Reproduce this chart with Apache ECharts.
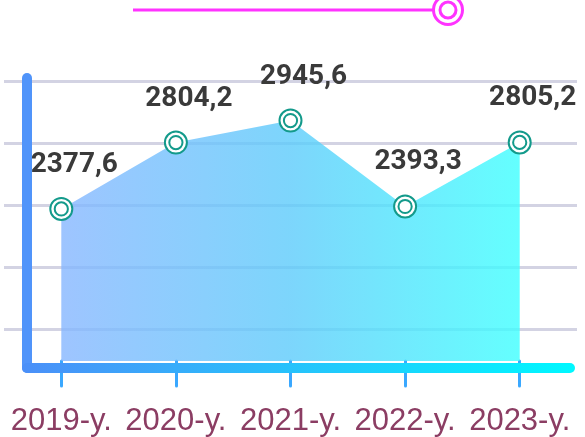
<!DOCTYPE html>
<html>
<head>
<meta charset="utf-8">
<script src="https://cdn.jsdelivr.net/npm/echarts@6/dist/echarts.min.js"></script>
<style>
  html, body { margin: 0; padding: 0; background: #ffffff; }
  #chart { width: 585px; height: 437px; }
</style>
</head>
<body>
<div id="chart"></div>
<script>
// Yearly totals
const years = ['2019-y.', '2020-y.', '2021-y.', '2022-y.', '2023-y.'];
const totals = [2377.6, 2804.2, 2945.6, 2393.3, 2805.2];

// Horizontal guide lines (plain index scale, only the lines are drawn)
const guideMin = -0.52;
const guideMax = 4;

// Value scale used for the area and markers
const valueMin = 1400;
const valueMax = 3200;

const fmt = v => String(v).replace('.', ',');

// Double-ring marker: two concentric circles, stroked by borderColor
const ringSymbol = 'path://M10,0A10,10 0 1,1 -10,0A10,10 0 1,1 10,0ZM6,0A6,6 0 1,1 -6,0A6,6 0 1,1 6,0Z';

const chart = echarts.init(document.getElementById('chart'), null, { renderer: 'canvas' });

chart.setOption({
  animation: false,
  backgroundColor: '#ffffff',
  grid: [
    // plotting area
    { left: 4, right: 8, top: 81, bottom: 69 },
    // L-shaped frame
    { left: 27, right: 15, top: 78, bottom: 69 }
  ],
  xAxis: [
    {
      gridIndex: 0,
      type: 'category',
      data: years,
      boundaryGap: true,
      axisLine: { show: false, onZero: false },
      axisTick: {
        show: true,
        alignWithLabel: true,
        interval: 0,
        length: 25,
        lineStyle: { color: '#3aa8ff', width: 3, cap: 'round' }
      },
      axisLabel: {
        interval: 0,
        margin: 45,
        color: '#8b3d63',
        fontSize: 31,
        fontFamily: "'Liberation Sans', Arial, sans-serif"
      },
      splitLine: { show: false }
    },
    {
      gridIndex: 1,
      type: 'value',
      min: 0,
      max: 1,
      z: 4,
      axisLine: {
        show: true,
        onZero: false,
        lineStyle: {
          width: 10,
          cap: 'round',
          color: new echarts.graphic.LinearGradient(0, 0, 1, 0, [
            { offset: 0, color: '#4b8ff8' },
            { offset: 1, color: '#00f8ff' }
          ])
        }
      },
      axisTick: { show: false },
      axisLabel: { show: false },
      splitLine: { show: false }
    }
  ],
  yAxis: [
    {
      gridIndex: 0,
      type: 'value',
      min: valueMin,
      max: valueMax,
      axisLine: { show: false },
      axisTick: { show: false },
      axisLabel: { show: false },
      splitLine: { show: false }
    },
    {
      gridIndex: 0,
      type: 'value',
      min: guideMin,
      max: guideMax,
      splitNumber: 4,
      axisLine: { show: false },
      axisTick: { show: false },
      axisLabel: { show: false },
      splitLine: {
        show: true,
        showMinLine: false,
        lineStyle: { color: '#d3d3e3', width: 3 }
      }
    },
    {
      gridIndex: 1,
      type: 'value',
      min: 0,
      max: 1,
      z: 4,
      axisLine: {
        show: true,
        onZero: false,
        lineStyle: { width: 10, cap: 'round', color: '#5094fa' }
      },
      axisTick: { show: false },
      axisLabel: { show: false },
      splitLine: { show: false }
    }
  ],
  graphic: [
    {
      type: 'line',
      shape: { x1: 133, y1: 10, x2: 433, y2: 10 },
      style: { stroke: '#ff33ff', lineWidth: 3 }
    },
    {
      type: 'circle',
      shape: { cx: 448, cy: 10, r: 14.5 },
      style: { fill: '#ffffff', stroke: '#ff33ff', lineWidth: 3 }
    },
    {
      type: 'circle',
      shape: { cx: 448, cy: 10, r: 8 },
      style: { fill: '#ffffff', stroke: '#ff33ff', lineWidth: 3 }
    }
  ],
  series: [
    {
      type: 'line',
      xAxisIndex: 0,
      yAxisIndex: 0,
      data: totals,
      symbol: ringSymbol,
      symbolSize: 22,
      showSymbol: true,
      lineStyle: { width: 0 },
      itemStyle: { color: '#ffffff', borderColor: '#139a8b', borderWidth: 2 },
      areaStyle: {
        origin: 'start',
        opacity: 0.8,
        color: new echarts.graphic.LinearGradient(0, 0, 1, 0, [
          { offset: 0, color: '#86b6ff' },
          { offset: 0.5, color: '#5ccbfb' },
          { offset: 1, color: '#3dffff' }
        ])
      },
      label: {
        show: true,
        position: 'top',
        distance: 18,
        offset: [13, 0],
        formatter: p => fmt(p.value),
        color: '#3a3a3a',
        fontSize: 28,
        fontWeight: 'bold',
        fontFamily: "Roboto, 'Liberation Sans', sans-serif"
      },
      z: 3
    }
  ]
});
</script>
</body>
</html>
